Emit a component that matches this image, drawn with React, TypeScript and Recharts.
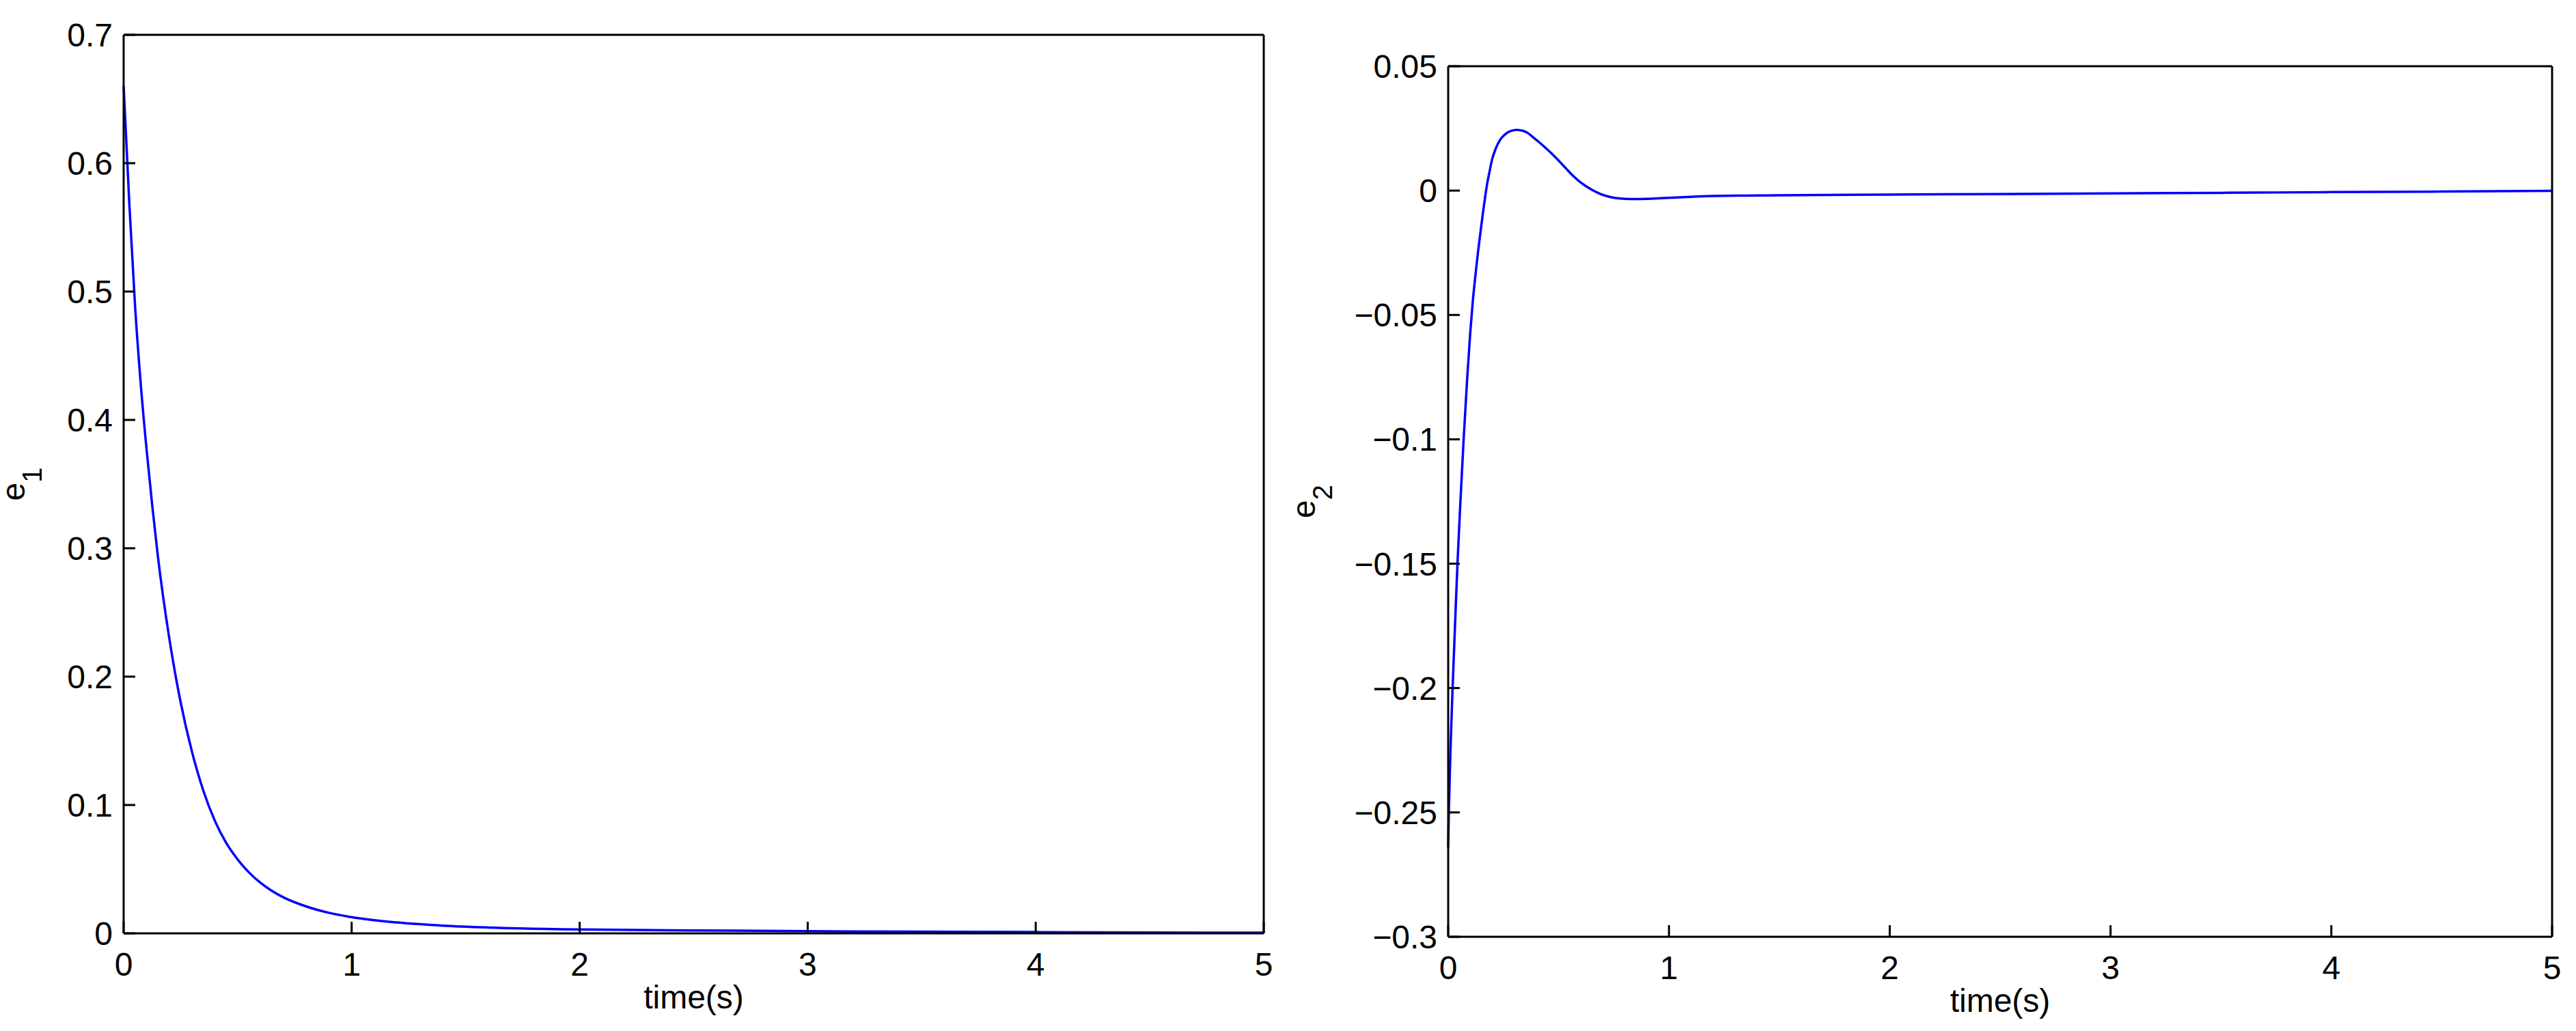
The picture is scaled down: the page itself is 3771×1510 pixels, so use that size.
import React from 'react';
import { LineChart, Line, XAxis, YAxis } from 'recharts';

const FONT = '"Liberation Sans", Arial, Helvetica, sans-serif';

// shared time ticks
const xTicks = [0, 1, 2, 3, 4, 5];

// e1 series (left panel)
const e1Time = [0, 0.025, 0.05, 0.075, 0.1, 0.125, 0.15, 0.2, 0.25, 0.3, 0.35, 0.4, 0.45, 0.5, 0.55, 0.6, 0.65, 0.7, 0.8, 0.9, 1.0, 1.2, 1.4, 1.6, 2.0, 2.5, 3.0, 3.5, 4.0, 4.5, 5.0];
const e1Values = [0.66, 0.568, 0.489, 0.428, 0.378, 0.334, 0.294, 0.23, 0.18, 0.1413, 0.1109, 0.0877, 0.0704, 0.0576, 0.0474, 0.0394, 0.0331, 0.0281, 0.021, 0.016, 0.0126, 0.00845, 0.006, 0.00454, 0.003, 0.0023, 0.0017, 0.0013, 0.001, 0.0007, 0.0005];
const e1Ticks = [0, 0.1, 0.2, 0.3, 0.4, 0.5, 0.6, 0.7];

// e2 series (right panel)
const e2Time = [0, 0.003, 0.01, 0.02, 0.03, 0.042, 0.056, 0.07, 0.085, 0.1, 0.112, 0.124, 0.136, 0.148, 0.157, 0.166, 0.176, 0.187, 0.198, 0.215, 0.235, 0.26, 0.285, 0.31, 0.34, 0.36, 0.385, 0.41, 0.432, 0.47, 0.503, 0.535, 0.5625, 0.59, 0.622, 0.65, 0.681, 0.71, 0.74, 0.78, 0.823, 0.9, 0.977, 1.08, 1.176, 1.5, 2.0, 2.5, 3.0, 3.5, 4.0, 4.5, 5.0];
const e2Values = [-0.264, -0.25, -0.226, -0.2, -0.177, -0.15, -0.124, -0.1, -0.077, -0.057, -0.044, -0.0335, -0.024, -0.0155, -0.0092, -0.0035, 0.0025, 0.0075, 0.0122, 0.0168, 0.0204, 0.0228, 0.024, 0.0244, 0.024, 0.0232, 0.0214, 0.0196, 0.0179, 0.0148, 0.0118, 0.0088, 0.0062, 0.004, 0.0019, 0.0004, -0.001, -0.002, -0.0027, -0.0032, -0.0034, -0.0033, -0.003, -0.0026, -0.0022, -0.0019, -0.0016, -0.0014, -0.0011, -0.0009, -0.0006, -0.0004, -0.0001];
const e2Ticks = [-0.3, -0.25, -0.2, -0.15, -0.1, -0.05, 0, 0.05];

const fmt = (v: number) => {
  if (Math.abs(v) < 1e-9) return '0';
  const s = String(Math.round(Math.abs(v) * 100) / 100);
  return (v < 0 ? '\u2212' : '') + s;
};

const axisLine = { stroke: '#000', strokeWidth: 3 };
const tickLine = { stroke: '#000', strokeWidth: 3 };
const tickStyle = { fill: '#000', fontSize: 48, fontFamily: FONT };

type PanelProps = {
  t: number[];
  v: number[];
  yDomain: [number, number];
  yTicks: number[];
  sub: string;
  left: number;
  width: number;
  margin: { top: number; right: number; bottom: number; left: number };
  yAxisWidth: number;
  labelGap: number;
};

function Panel(p: PanelProps) {
  const data = p.t.map((t, i) => ({ t, v: p.v[i] }));
  const yLabel = (props: any) => {
    const vb = props.viewBox || {};
    const cx = vb.x + vb.width - p.labelGap;
    const cy = vb.y + vb.height / 2;
    return (
      <text
        x={cx}
        y={cy}
        transform={`rotate(-90 ${cx} ${cy})`}
        textAnchor="middle"
        fontFamily={FONT}
        fontSize={48}
        fill="#000"
      >
        <tspan>e</tspan>
        <tspan fontSize={40} dy={25}>{p.sub}</tspan>
      </text>
    );
  };
  const xLabel = (props: any) => {
    const vb = props.viewBox || {};
    const cx = vb.x + vb.width / 2;
    const y = vb.y + 110;
    return (
      <text x={cx} y={y} textAnchor="middle" fontFamily={FONT} fontSize={48} fill="#000">
        time(s)
      </text>
    );
  };
  return (
    <div style={{ position: 'absolute', left: p.left, top: 0 }}>
      <LineChart width={p.width} height={1510} data={data} margin={p.margin}>
        <XAxis
          dataKey="t"
          type="number"
          domain={[0, 5]}
          ticks={xTicks}
          interval={0}
          height={100}
          axisLine={axisLine}
          tickLine={tickLine}
          tickSize={-17}
          tickMargin={45}
          tick={tickStyle}
          tickFormatter={fmt}
          label={{ content: xLabel }}
        />
        <XAxis
          xAxisId="top"
          orientation="top"
          dataKey="t"
          type="number"
          domain={[0, 5]}
          ticks={xTicks}
          interval={0}
          height={1}
          axisLine={axisLine}
          tickLine={tickLine}
          tickSize={-17}
          tick={false}
        />
        <YAxis
          type="number"
          domain={p.yDomain}
          ticks={p.yTicks}
          interval={0}
          width={p.yAxisWidth}
          axisLine={axisLine}
          tickLine={tickLine}
          tickSize={-17}
          tickMargin={33}
          tick={tickStyle}
          tickFormatter={fmt}
          label={{ content: yLabel }}
        />
        <YAxis
          yAxisId="right"
          orientation="right"
          type="number"
          domain={p.yDomain}
          ticks={p.yTicks}
          interval={0}
          width={1}
          axisLine={axisLine}
          tickLine={tickLine}
          tickSize={-17}
          tick={false}
        />
        <Line
          type="monotone"
          dataKey="v"
          stroke="#0000ff"
          strokeWidth={3.5}
          dot={false}
          activeDot={false}
          isAnimationActive={false}
        />
      </LineChart>
    </div>
  );
}

export default function App() {
  return (
    <div
      style={{
        position: 'absolute',
        left: 0,
        top: 0,
        width: 3771,
        height: 1510,
        background: '#fff',
        overflow: 'hidden',
      }}
    >
      <Panel
        t={e1Time}
        v={e1Values}
        yDomain={[0, 0.7]}
        yTicks={e1Ticks}
        sub="1"
        left={0}
        width={1900}
        margin={{ top: 50, right: 49, bottom: 43, left: 0 }}
        yAxisWidth={181}
        labelGap={145}
      />
      <Panel
        t={e2Time}
        v={e2Values}
        yDomain={[-0.3, 0.05]}
        yTicks={e2Ticks}
        sub="2"
        left={1870}
        width={1901}
        margin={{ top: 96, right: 34, bottom: 38, left: 0 }}
        yAxisWidth={250}
        labelGap={195}
      />
    </div>
  );
}
